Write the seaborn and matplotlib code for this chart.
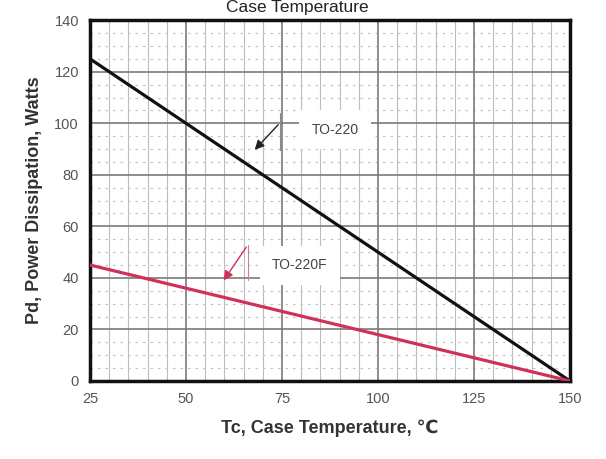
import matplotlib
matplotlib.use("Agg")
import matplotlib.pyplot as plt
import seaborn as sns
import pandas as pd
import numpy as np

# Data
tc = [25, 50, 75, 100, 125, 150]
pd_to220 = [125, 100, 75, 50, 25, 0]
pd_to220f = [45, 36, 27, 18, 9, 0]
x_ticks = [25, 50, 75, 100, 125, 150]
y_ticks = [0, 20, 40, 60, 80, 100, 120, 140]

sns.set_theme(style="white")
plt.rcParams['font.family'] = ['Liberation Sans', 'DejaVu Sans']

df = pd.DataFrame({
    "Tc": tc + tc,
    "Pd": pd_to220 + pd_to220f,
    "pkg": ["TO-220"] * len(tc) + ["TO-220F"] * len(tc),
})

fig = plt.figure(figsize=(6.06, 4.59), dpi=100)
ax = fig.add_axes([0.1485, 0.170, 0.792, 0.786])

# grid
for xv in np.arange(25, 151, 5):
    if (xv - 25) % 25 == 0:
        continue
    ax.axvline(xv, color="#bcbcbc", lw=0.8, zorder=0)
for yv in np.arange(0, 141, 5):
    if yv % 20 == 0:
        continue
    ax.axhline(yv, color="#c4c4c4", lw=0.9, ls=(0, (2, 4)), zorder=0)
for xv in x_ticks[1:-1]:
    ax.axvline(xv, color="#7a7a7a", lw=1.2, zorder=0.5)
for yv in y_ticks[1:-1]:
    ax.axhline(yv, color="#7a7a7a", lw=1.2, zorder=0.5)

sns.lineplot(data=df, x="Tc", y="Pd", hue="pkg",
             palette={"TO-220": "#111111", "TO-220F": "#d0305a"},
             linewidth=2.3, legend=False, ax=ax, zorder=3)

ax.set_xlim(25, 150)
ax.set_ylim(0, 140)
ax.set_xticks(x_ticks)
ax.set_yticks(y_ticks)
ax.tick_params(axis="both", labelsize=10.5, labelcolor="#555555", length=0, pad=8)
for s in ax.spines.values():
    s.set_linewidth(2.5)
    s.set_color("#111111")

ax.set_xlabel("Tc, Case Temperature, \u2103", fontsize=13, fontweight="bold",
              color="#333333", labelpad=10)
ax.set_ylabel("Pd, Power Dissipation, Watts", fontsize=13, fontweight="bold",
              color="#333333", labelpad=8)

fig.text(0.49, 0.999, "Case Temperature", ha="center", va="top",
         fontsize=12.5, color="#222222")

# annotations
box = dict(facecolor="white", edgecolor="none", pad=9)
ax.text(88.8, 97.5, "TO-220", ha="center", va="center", fontsize=10,
        color="#444444", bbox=box, zorder=4)
ax.annotate("", xy=(67.4, 88.9), xytext=(74.5, 100.2),
            arrowprops=dict(arrowstyle="-|>", color="#222222", lw=1.0,
                            mutation_scale=14), zorder=5)
ax.plot([74.5, 74.5], [89.7, 104.1], color="#888888", lw=0.8, zorder=5)

ax.text(79.7, 45.0, "TO-220F", ha="center", va="center", fontsize=10,
        color="#444444", bbox=box, zorder=4)
ax.annotate("", xy=(59.4, 38.1), xytext=(66.1, 52.8),
            arrowprops=dict(arrowstyle="-|>", color="#d0305a", lw=1.0,
                            mutation_scale=14), zorder=5)
ax.plot([66.1, 66.1], [39.2, 52.8], color="#d08090", lw=0.8, zorder=5)

fig.savefig("out.png", dpi=100)
